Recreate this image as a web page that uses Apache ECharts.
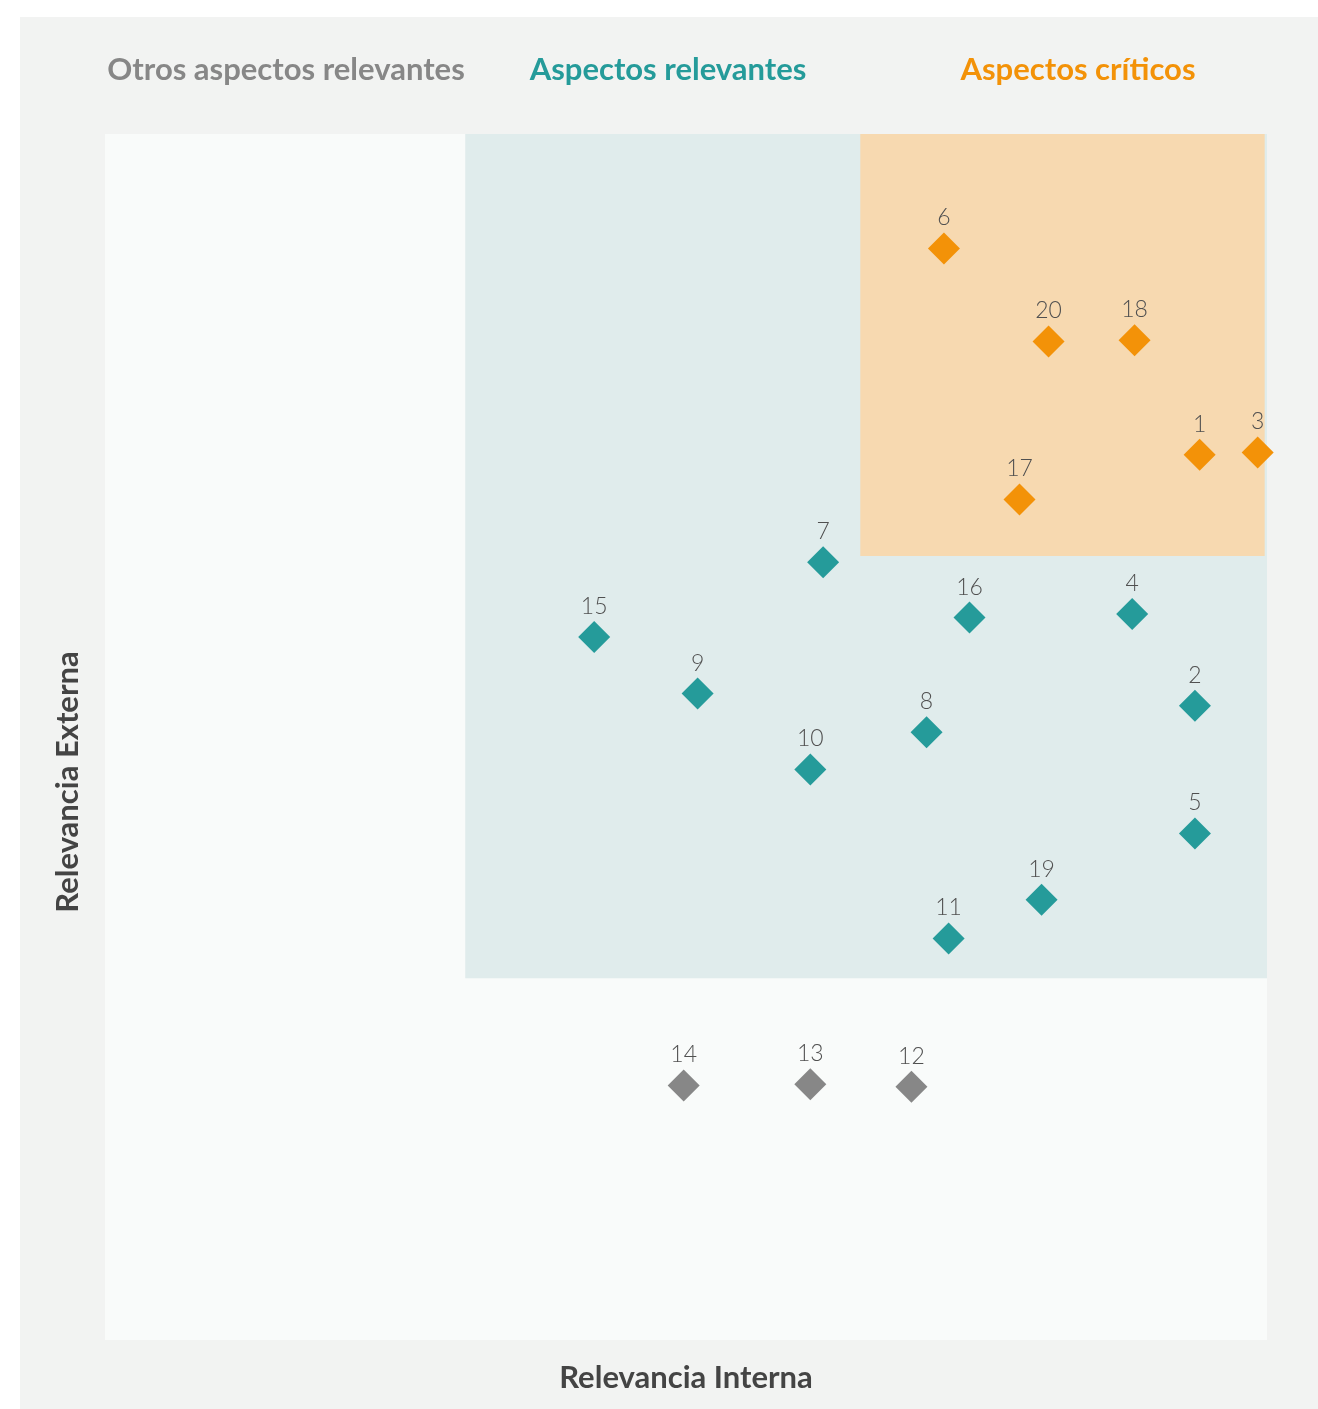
<!DOCTYPE html>
<html>
<head>
<meta charset="utf-8">
<script src="https://cdn.jsdelivr.net/npm/echarts@6/dist/echarts.min.js"></script>
<style>
  html, body { margin: 0; padding: 0; background: #ffffff; }
  #chart { width: 1318px; height: 1409px; }
</style>
</head>
<body>
<div id="chart"></div>
<script>
// aspect numbers and their position on the 0-10 relevance scales
const criticos = ["6", "20", "18", "1", "3", "17"];
const criticosX = [7.22, 8.12, 8.86, 9.42, 9.92, 7.87];
const criticosY = [9.05, 8.28, 8.29, 7.34, 7.36, 6.97];

const relevantes = ["7", "16", "4", "15", "9", "2", "8", "10", "5", "19", "11"];
const relevantesX = [6.18, 7.44, 8.84, 4.21, 5.10, 9.38, 7.07, 6.07, 9.38, 8.06, 7.26];
const relevantesY = [6.45, 5.99, 6.02, 5.83, 5.36, 5.26, 5.04, 4.73, 4.20, 3.65, 3.33];

const otros = ["14", "13", "12"];
const otrosX = [4.98, 6.07, 6.94];
const otrosY = [2.11, 2.12, 2.10];

// zone limits
const zonaRelevante = [[3.1, 3.0], [10, 10]];
const zonaCritica = [[6.5, 6.5], [9.98, 10]];

const toPoints = (names, xs, ys) => names.map((n, i) => ({ name: n, value: [xs[i], ys[i]] }));

const chart = echarts.init(document.getElementById("chart"));

const labelStyle = {
    show: true,
    position: "top",
    distance: 3,
    formatter: "{b}",
    color: "#505050",
    fontFamily: "Lato",
    fontWeight: 300,
    fontSize: 23,
};

const makeSeries = (name, data, color, z) => ({
    name: name,
    type: "scatter",
    symbol: "diamond",
    symbolSize: 32,
    clip: false,
    itemStyle: { color: color, opacity: 1 },
    label: labelStyle,
    data: data,
    z: z,
});

const titleText = (txt, x, y, color, rot) => ({
    type: "text",
    x: x, y: y,
    rotation: rot || 0,
    style: {
        text: txt,
        fill: color,
        font: "bold 31px Lato",
        textAlign: "center",
        textVerticalAlign: "middle",
    },
});

const option = {
    animation: false,
    backgroundColor: "#ffffff",
    graphic: [
        {
            type: "rect",
            shape: { x: 20, y: 17, width: 1298, height: 1392 },
            style: { fill: "#f2f3f2" },
            z: -10,
        },
        titleText("Otros aspectos relevantes", 286, 70, "#878787"),
        titleText("Aspectos relevantes", 668, 70, "#259b9a"),
        titleText("Aspectos críticos", 1078, 70, "#f39208"),
        titleText("Relevancia Interna", 686, 1378, "#444444"),
        titleText("Relevancia Externa", 68, 782, "#444444", Math.PI / 2),
    ],
    grid: {
        left: 105,
        top: 134,
        width: 1162,
        height: 1206,
        show: true,
        backgroundColor: "#f9fbfa",
        borderWidth: 0,
    },
    xAxis: {
        type: "value",
        min: 0,
        max: 10,
        axisLine: { show: false },
        axisTick: { show: false },
        axisLabel: { show: false },
        splitLine: { show: false },
    },
    yAxis: {
        type: "value",
        min: 0,
        max: 10,
        axisLine: { show: false },
        axisTick: { show: false },
        axisLabel: { show: false },
        splitLine: { show: false },
    },
    series: [
        {
            type: "scatter",
            data: [],
            markArea: {
                silent: true,
                itemStyle: { color: "#e0ecec" },
                data: [[{ coord: zonaRelevante[0] }, { coord: zonaRelevante[1] }]],
            },
            z: 1,
        },
        {
            type: "scatter",
            data: [],
            markArea: {
                silent: true,
                itemStyle: { color: "#f7d9b0" },
                data: [[{ coord: zonaCritica[0] }, { coord: zonaCritica[1] }]],
            },
            z: 2,
        },
        makeSeries("Aspectos críticos", toPoints(criticos, criticosX, criticosY), "#f39208", 5),
        makeSeries("Aspectos relevantes", toPoints(relevantes, relevantesX, relevantesY), "#259b9a", 5),
        makeSeries("Otros aspectos relevantes", toPoints(otros, otrosX, otrosY), "#878787", 5),
    ],
};

chart.setOption(option);
</script>
</body>
</html>
